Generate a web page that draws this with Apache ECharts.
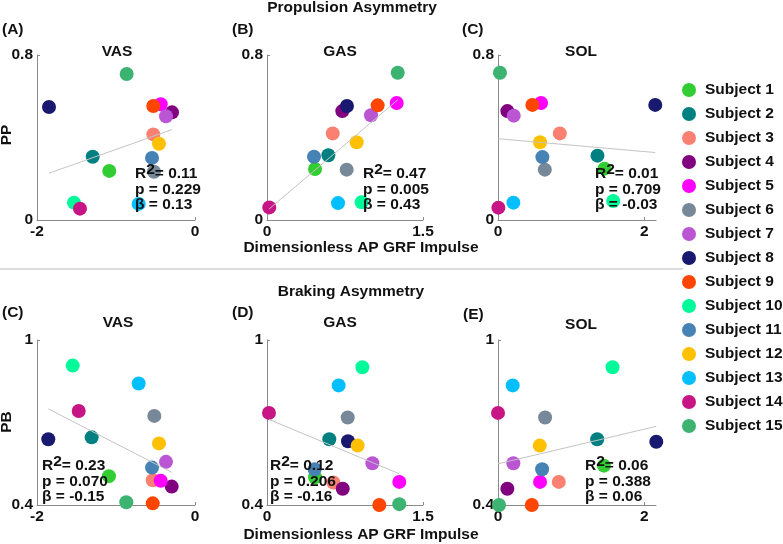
<!DOCTYPE html>
<html><head><meta charset="utf-8">
<script src="https://cdn.jsdelivr.net/npm/echarts@6/dist/echarts.min.js"></script>
<style>html,body{margin:0;padding:0;background:#fff}#c{width:783px;height:544px}</style>
</head><body><div id="c"></div>
<script>
const subjects = ['Subject 1','Subject 2','Subject 3','Subject 4','Subject 5','Subject 6','Subject 7','Subject 8','Subject 9','Subject 10','Subject 11','Subject 12','Subject 13','Subject 14','Subject 15'];
const colors = ['#32CD32','#008080','#FA8072','#800080','#FF00FF','#778899','#BA55D3','#191970','#FF4500','#00FA9A','#4682B4','#FFC000','#00BFFF','#C71585','#3CB371'];

// Propulsion asymmetry (PP) panels
const ppVasX = [-1.085,-1.295,-0.528,-0.291,-0.434,-0.519,-0.367,-1.848,-0.528,-1.532,-0.544,-0.456,-0.713,-1.456,-0.865];
const ppVasY = [0.238,0.307,0.415,0.522,0.561,0.234,0.503,0.548,0.553,0.084,0.301,0.370,0.078,0.055,0.708];
const ppGasX = [0.462,0.590,0.632,0.724,1.247,0.766,1.000,0.769,1.064,0.910,0.452,0.862,0.683,0.022,1.257];
const ppGasY = [0.247,0.314,0.420,0.528,0.567,0.244,0.508,0.553,0.556,0.086,0.307,0.377,0.082,0.061,0.714];
const ppSolX = [1.456,1.360,0.845,0.128,0.589,0.640,0.215,2.150,0.470,1.575,0.607,0.575,0.210,0.005,0.027];
const ppSolY = [0.249,0.312,0.420,0.528,0.567,0.244,0.506,0.558,0.558,0.092,0.305,0.377,0.084,0.060,0.714];
// Braking asymmetry (PB) panels
const pbVasX = [-1.089,-1.308,-0.535,-0.295,-0.434,-0.515,-0.367,-1.857,-0.535,-1.548,-0.544,-0.456,-0.713,-1.472,-0.870];
const pbVasY = [0.505,0.646,0.490,0.467,0.488,0.724,0.557,0.639,0.406,0.907,0.536,0.624,0.842,0.742,0.410];
const pbGasX = [0.462,0.599,0.638,0.728,1.272,0.776,1.013,0.779,1.080,0.917,0.458,0.872,0.689,0.019,1.272];
const pbGasY = [0.501,0.639,0.482,0.459,0.484,0.718,0.552,0.632,0.400,0.901,0.530,0.616,0.835,0.735,0.403];
const pbSolX = [1.448,1.356,0.831,0.128,0.575,0.644,0.210,2.164,0.462,1.566,0.603,0.571,0.201,0.000,0.014];
const pbSolY = [0.543,0.639,0.484,0.459,0.484,0.718,0.552,0.630,0.400,0.901,0.530,0.616,0.835,0.735,0.400];

const xTicksVas = [-2, 0];
const xTicksGas = [0, 1.5];
const xTicksSol = [0, 2];
const yTicksPP = [0, 0.8];
const yTicksPB = [0.4, 1];

const panelLabels = ['(A)','(B)','(C)','(C)','(D)','(E)'];
const muscles = ['VAS','GAS','SOL','VAS','GAS','SOL'];
const statR2 = ['0.11','0.47','0.01','0.23','0.12','0.06'];
const statP = ['0.229','0.005','0.709','0.070','0.206','0.388'];
const statB = ['0.13','0.43','-0.03','-0.15','-0.16','0.06'];

const panels = [
  {x: ppVasX, y: ppVasY, xt: xTicksVas, yt: yTicksPP, xr: [-2, 0], yr: [0, 0.8]},
  {x: ppGasX, y: ppGasY, xt: xTicksGas, yt: yTicksPP, xr: [0, 1.5], yr: [0, 0.8]},
  {x: ppSolX, y: ppSolY, xt: xTicksSol, yt: yTicksPP, xr: [0, 2.16], yr: [0, 0.8]},
  {x: pbVasX, y: pbVasY, xt: xTicksVas, yt: yTicksPB, xr: [-2, 0], yr: [0.4, 1]},
  {x: pbGasX, y: pbGasY, xt: xTicksGas, yt: yTicksPB, xr: [0, 1.5], yr: [0.4, 1]},
  {x: pbSolX, y: pbSolY, xt: xTicksSol, yt: yTicksPB, xr: [0, 2.16], yr: [0.4, 1]}
];
const gridBoxes = [
  {left: 37, top: 55, width: 158, height: 165},
  {left: 267, top: 55, width: 156, height: 165},
  {left: 498, top: 55, width: 158, height: 165},
  {left: 37, top: 340, width: 158, height: 165},
  {left: 267, top: 340, width: 156, height: 165},
  {left: 498, top: 340, width: 158, height: 165}
];

function olsLine(xs, ys) {
  const n = xs.length;
  let mx = 0, my = 0;
  for (let i = 0; i < n; i++) { mx += xs[i]; my += ys[i]; }
  mx /= n; my /= n;
  let sxy = 0, sxx = 0;
  for (let i = 0; i < n; i++) { sxy += (xs[i]-mx)*(ys[i]-my); sxx += (xs[i]-mx)*(xs[i]-mx); }
  const b = sxy / sxx, a = my - b*mx;
  const x0 = Math.min(...xs), x1 = Math.max(...xs);
  return [[x0, a + b*x0], [x1, a + b*x1]];
}

const FF = '"Liberation Sans", Arial, sans-serif';
const FS = 15.5;
const axisGray = '#8a8a8a';
const grid = [], xAxis = [], yAxis = [], series = [];
panels.forEach((p, k) => {
  grid.push(Object.assign({containLabel: false}, gridBoxes[k]));
  xAxis.push({
    type: 'value', gridIndex: k, min: p.xr[0], max: p.xr[1],
    axisLine: {show: true, onZero: false, lineStyle: {color: axisGray, width: 1}},
    axisTick: {show: true, inside: true, length: 3, customValues: p.xt, lineStyle: {color: axisGray}},
    axisLabel: {customValues: p.xt, margin: 4, color: '#111', fontWeight: 'bold', fontSize: FS, fontFamily: FF},
    splitLine: {show: false}
  });
  yAxis.push({
    type: 'value', gridIndex: k, min: p.yr[0], max: p.yr[1],
    axisLine: {show: true, onZero: false, lineStyle: {color: axisGray, width: 1}},
    axisTick: {show: true, inside: true, length: 3, customValues: p.yt, lineStyle: {color: axisGray}},
    axisLabel: {customValues: p.yt, margin: 4, color: '#111', fontWeight: 'bold', fontSize: FS, fontFamily: FF},
    splitLine: {show: false}
  });
  subjects.forEach((s, i) => {
    series.push({
      name: s, type: 'scatter', xAxisIndex: k, yAxisIndex: k,
      symbol: 'circle', symbolSize: 14, clip: false, z: 2,
      itemStyle: {color: colors[i], opacity: 1},
      data: [[p.x[i], p.y[i]]]
    });
  });
  series.push({
    type: 'line', xAxisIndex: k, yAxisIndex: k, silent: true, showSymbol: false, symbol: 'none',
    z: 3, lineStyle: {color: '#c4c4c4', width: 1}, data: olsLine(p.x, p.y)
  });
});

const graphic = [];
function txt(x, y, text, opts) {
  const o = Object.assign({type: 'text', x: x, y: y, z: 100, style: Object.assign({
    text: text, fontSize: FS, fontWeight: 'bold', fontFamily: FF, fill: '#111',
    align: 'center', verticalAlign: 'middle'}, (opts && opts.style) || {})}, opts && opts.rotation !== undefined ? {rotation: opts.rotation} : {});
  graphic.push(o);
}
txt(352, 8, 'Propulsion Asymmetry');
txt(351, 292, 'Braking Asymmetry');
txt(361, 248, 'Dimensionless AP GRF Impulse');
txt(361, 535, 'Dimensionless AP GRF Impulse');
txt(7, 135, 'PP', {rotation: Math.PI/2});
txt(7, 422, 'PB', {rotation: Math.PI/2});
graphic.push({type: 'line', z: 50, shape: {x1: 0, y1: 269, x2: 683, y2: 269}, style: {stroke: '#d0d0d0', lineWidth: 1.5}});

const labelPos = [[2,30],[232,30],[462,30],[2,313],[232,313],[463,315]];
const musclePos = [[117,52],[340,52],[581,52],[118,323],[340,323],[581,325]];
const statPos = [[135,174],[363,174],[595,174],[42,466],[270,466],[585,466]];
panels.forEach((p, k) => {
  txt(labelPos[k][0], labelPos[k][1], panelLabels[k], {style: {align: 'left'}});
  txt(musclePos[k][0], musclePos[k][1], muscles[k]);
  const sx = statPos[k][0], sy = statPos[k][1];
  txt(sx, sy, 'R{s|2}= ' + statR2[k], {style: {align: 'left', lineHeight: 24,
    rich: {s: {fontSize: FS, fontWeight: 'bold', fontFamily: FF, fill: '#111', verticalAlign: 'top', lineHeight: 15}}}});
  txt(sx, sy + 15.5, 'p = ' + statP[k], {style: {align: 'left'}});
  txt(sx, sy + 31, '\u03b2 = ' + statB[k], {style: {align: 'left'}});
});

const chart = echarts.init(document.getElementById('c'), null, {renderer: 'canvas'});
chart.setOption({
  backgroundColor: '#fff',
  animation: false,
  grid: grid, xAxis: xAxis, yAxis: yAxis, series: series,
  legend: {
    data: subjects, orient: 'vertical', left: 682, top: 82, padding: 0,
    itemWidth: 14, itemHeight: 14, itemGap: 8, icon: 'circle', selectedMode: false,
    textStyle: {fontSize: FS, fontWeight: 'bold', color: '#111', fontFamily: FF, padding: [0,0,0,4]}
  },
  graphic: graphic
});
</script>
</body></html>
